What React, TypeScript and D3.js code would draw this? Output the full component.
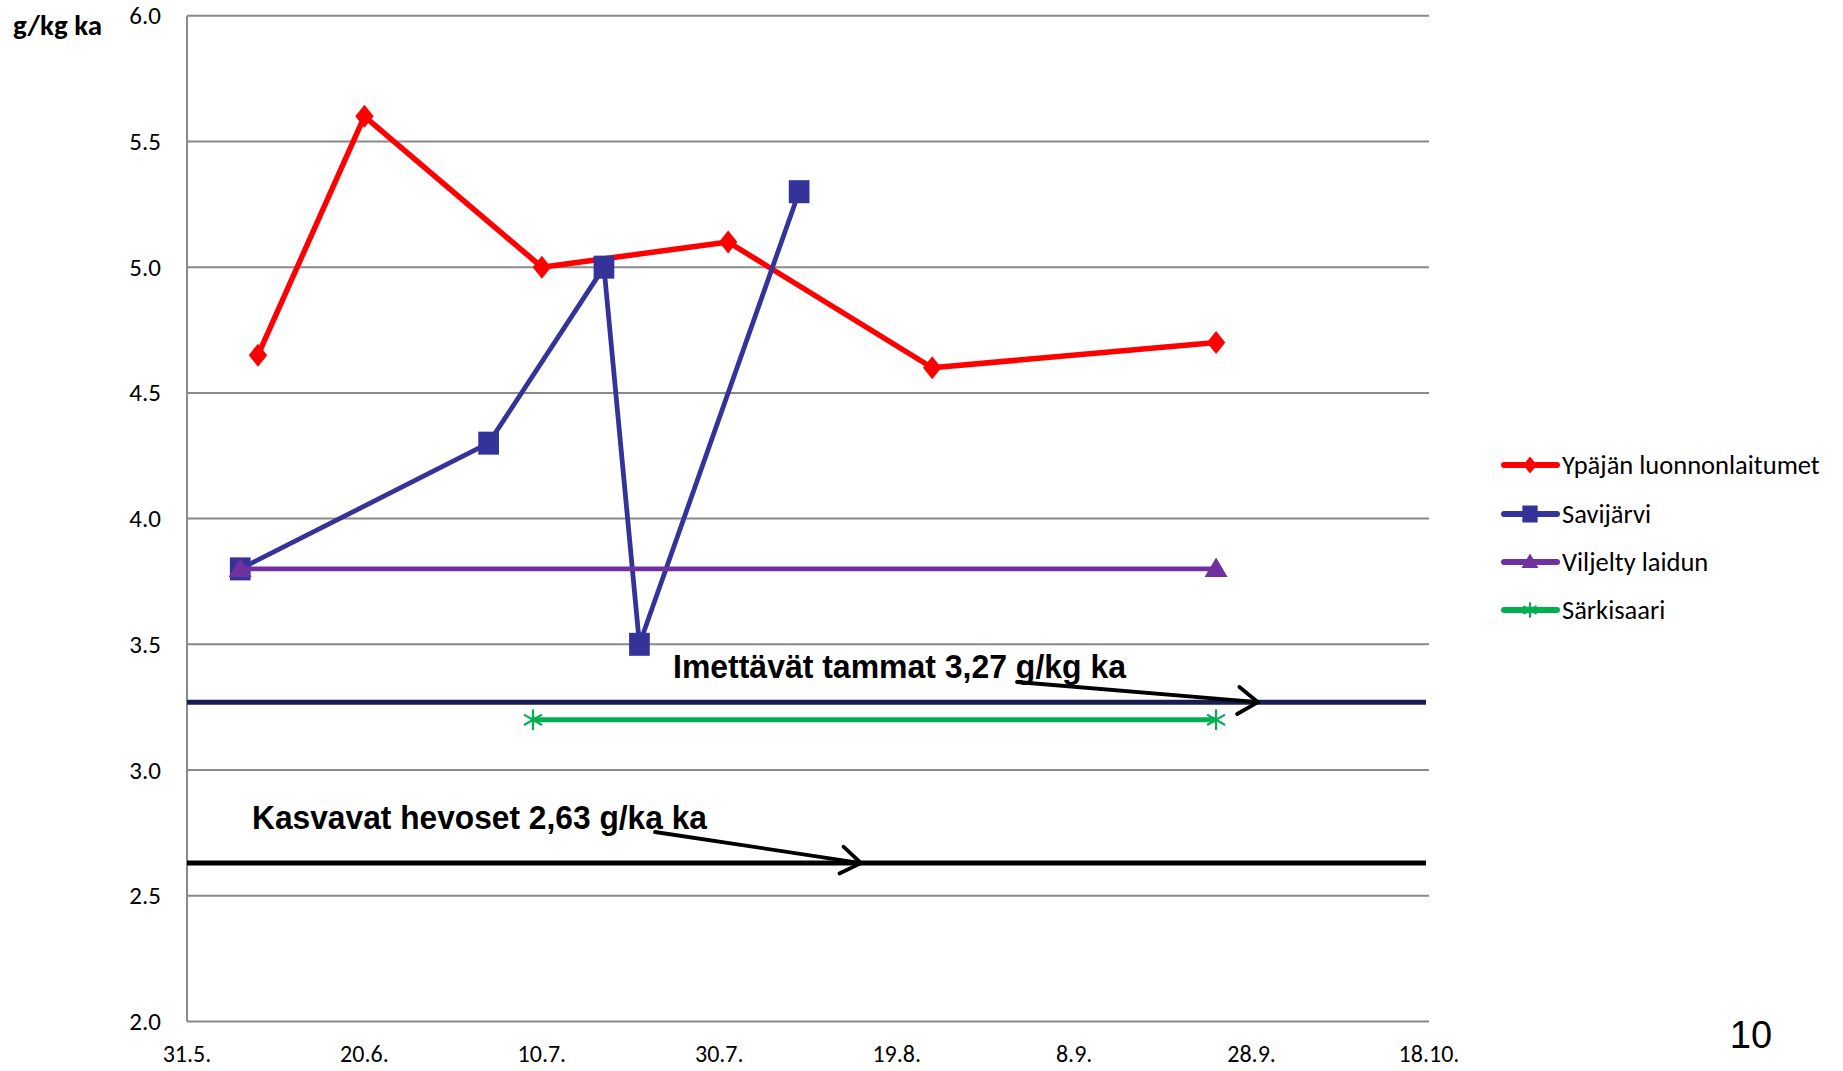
import React from "react";
import * as d3 from "d3";

const W = 1843;
const H = 1071;

const day = (m: number, dd: number) => new Date(Date.UTC(2010, m - 1, dd));

// Axis ticks
const xTickDates = [day(5, 31), day(6, 20), day(7, 10), day(7, 30), day(8, 19), day(9, 8), day(9, 28), day(10, 18)];
const yTickValues = [2.0, 2.5, 3.0, 3.5, 4.0, 4.5, 5.0, 5.5, 6.0];

// Series
const seriesNames = ["Ypäjän luonnonlaitumet", "Savijärvi", "Viljelty laidun", "Särkisaari"];
const ypajaDates = [day(6, 8), day(6, 20), day(7, 10), day(7, 31), day(8, 23), day(9, 24)];
const ypajaValues = [4.65, 5.6, 5.0, 5.1, 4.6, 4.7];
const savijarviDates = [day(6, 6), day(7, 4), day(7, 17), day(7, 21), day(8, 8)];
const savijarviValues = [3.8, 4.3, 5.0, 3.5, 5.3];
const viljeltyDates = [day(6, 6), day(9, 24)];
const viljeltyValues = [3.8, 3.8];
const sarkisaariDates = [day(7, 9), day(9, 24)];
const sarkisaariValues = [3.2, 3.2];

// Requirement lines
const requirementLabels = ["Imettävät tammat 3,27 g/kg ka", "Kasvavat hevoset 2,63 g/ka ka"];
const requirementValues = [3.27, 2.63];

const yTitle = "g/kg ka";
const pageNumber = "10";

const plot = { left: 187, right: 1429, top: 15.7, bottom: 1021.5 };

const x = d3.scaleUtc().domain([xTickDates[0], xTickDates[xTickDates.length - 1]]).range([plot.left, plot.right]);
const y = d3.scaleLinear().domain([2, 6]).range([plot.bottom, plot.top]);
const fmt = d3.utcFormat("%-d.%-m.");

type Marker = "diamond" | "square" | "triangle" | "star";

const series = [
  { name: seriesNames[0], dates: ypajaDates, values: ypajaValues, color: "#FF0000", width: 5.5, marker: "diamond" as Marker },
  { name: seriesNames[1], dates: savijarviDates, values: savijarviValues, color: "#333399", width: 4.8, marker: "square" as Marker },
  { name: seriesNames[2], dates: viljeltyDates, values: viljeltyValues, color: "#7030A0", width: 4.8, marker: "triangle" as Marker },
  { name: seriesNames[3], dates: sarkisaariDates, values: sarkisaariValues, color: "#00B050", width: 4.8, marker: "star" as Marker },
];

function MarkerShape({ type, cx, cy, color, s }: { type: Marker; cx: number; cy: number; color: string; s: number }) {
  const h = s / 2;
  if (type === "diamond") {
    const p = d3.path();
    p.moveTo(cx, cy - h);
    p.lineTo(cx + h * 0.8, cy);
    p.lineTo(cx, cy + h);
    p.lineTo(cx - h * 0.8, cy);
    p.closePath();
    return <path d={p.toString()} fill={color} />;
  }
  if (type === "square") {
    return <rect x={cx - h * 0.9} y={cy - h} width={h * 1.8} height={h * 2} fill={color} />;
  }
  if (type === "triangle") {
    const p = d3.path();
    p.moveTo(cx, cy - h);
    p.lineTo(cx + h, cy + h * 0.7);
    p.lineTo(cx - h, cy + h * 0.7);
    p.closePath();
    return <path d={p.toString()} fill={color} />;
  }
  const r = h * 0.9;
  const a = r * Math.cos(Math.PI / 6);
  const b = r * Math.sin(Math.PI / 6);
  return (
    <g stroke={color} strokeWidth={2.2}>
      <line x1={cx} y1={cy - r} x2={cx} y2={cy + r} />
      <line x1={cx - a} y1={cy - b} x2={cx + a} y2={cy + b} />
      <line x1={cx - a} y1={cy + b} x2={cx + a} y2={cy - b} />
    </g>
  );
}

function Arrow({ x1, y1, x2, y2 }: { x1: number; y1: number; x2: number; y2: number }) {
  const ang = Math.atan2(y2 - y1, x2 - x1);
  const len = 24;
  const spread = 0.6;
  const h1x = x2 - len * Math.cos(ang - spread);
  const h1y = y2 - len * Math.sin(ang - spread);
  const h2x = x2 - len * Math.cos(ang + spread);
  const h2y = y2 - len * Math.sin(ang + spread);
  return (
    <g stroke="#000" strokeWidth={3.8} fill="none" strokeLinecap="round" strokeLinejoin="round">
      <line x1={x1} y1={y1} x2={x2} y2={y2} />
      <polyline points={`${h1x},${h1y} ${x2},${y2} ${h2x},${h2y}`} />
    </g>
  );
}

export default function App() {
  const lineGen = d3
    .line<[Date, number]>()
    .x((d) => x(d[0]))
    .y((d) => y(d[1]));

  const legendY = [465, 514, 562, 610];
  const tickFont = "Calibri, Carlito, Lato, sans-serif";

  return (
    <div style={{ position: "absolute", left: 0, top: 0 }}>
      <svg width={W} height={H} style={{ display: "block", background: "#fff" }}>
        {/* gridlines */}
        {yTickValues.map((v) => (
          <line key={v} x1={plot.left} x2={plot.right} y1={y(v)} y2={y(v)} stroke="#8a8a8a" strokeWidth={2} />
        ))}
        <line x1={plot.left} x2={plot.left} y1={plot.top} y2={plot.bottom} stroke="#8a8a8a" strokeWidth={2} />

        {/* y tick labels */}
        {yTickValues.map((v) => (
          <text key={v} x={161} y={y(v) + 8.5} textAnchor="end" fontFamily={tickFont} fontSize={25} fill="#000">
            {v.toFixed(1)}
          </text>
        ))}
        {/* x tick labels */}
        {xTickDates.map((t) => (
          <text key={t.getTime()} x={x(t)} y={1062} textAnchor="middle" fontFamily={tickFont} fontSize={24} fill="#000">
            {fmt(t)}
          </text>
        ))}

        <text x={13} y={35} fontFamily={tickFont} fontWeight="bold" fontSize={29} fill="#000">
          {yTitle}
        </text>

        {/* series */}
        {series.map((s) => {
          const pts = s.dates.map((dt, i) => [dt, s.values[i]] as [Date, number]);
          return (
            <g key={s.name}>
              <path d={lineGen(pts) || ""} fill="none" stroke={s.color} strokeWidth={s.width} strokeLinejoin="round" />
              {pts.map((p, i) => (
                <MarkerShape key={i} type={s.marker} cx={x(p[0])} cy={y(p[1])} color={s.color} s={23} />
              ))}
            </g>
          );
        })}

        {/* requirement lines */}
        <line x1={plot.left} x2={plot.right - 3} y1={y(requirementValues[0])} y2={y(requirementValues[0])} stroke="#1c1c54" strokeWidth={5} />
        <line x1={plot.left} x2={plot.right - 3} y1={y(requirementValues[1])} y2={y(requirementValues[1])} stroke="#000" strokeWidth={5} />

        <text x={673} y={678} fontFamily="'Liberation Sans', Arial, sans-serif" fontWeight="bold" fontSize={34} textLength={453} lengthAdjust="spacingAndGlyphs" fill="#000">
          {requirementLabels[0]}
        </text>
        <text x={252} y={829} fontFamily="'Liberation Sans', Arial, sans-serif" fontWeight="bold" fontSize={34} textLength={455} lengthAdjust="spacingAndGlyphs" fill="#000">
          {requirementLabels[1]}
        </text>
        <Arrow x1={1017} y1={682} x2={1258} y2={y(requirementValues[0])} />
        <Arrow x1={655} y1={832} x2={861} y2={y(requirementValues[1])} />

        {/* legend */}
        {series.map((s, i) => (
          <g key={s.name}>
            <line x1={1504} x2={1557} y1={legendY[i]} y2={legendY[i]} stroke={s.color} strokeWidth={6} strokeLinecap="round" />
            <MarkerShape type={s.marker} cx={1530} cy={legendY[i]} color={s.color} s={17} />
            <text x={1562} y={legendY[i] + 9} fontFamily={tickFont} fontSize={26.5} fill="#000">
              {s.name}
            </text>
          </g>
        ))}

        <text x={1751} y={1048} textAnchor="middle" fontFamily="'Liberation Sans', Arial, sans-serif" fontSize={38} fill="#000">
          {pageNumber}
        </text>
      </svg>
    </div>
  );
}
